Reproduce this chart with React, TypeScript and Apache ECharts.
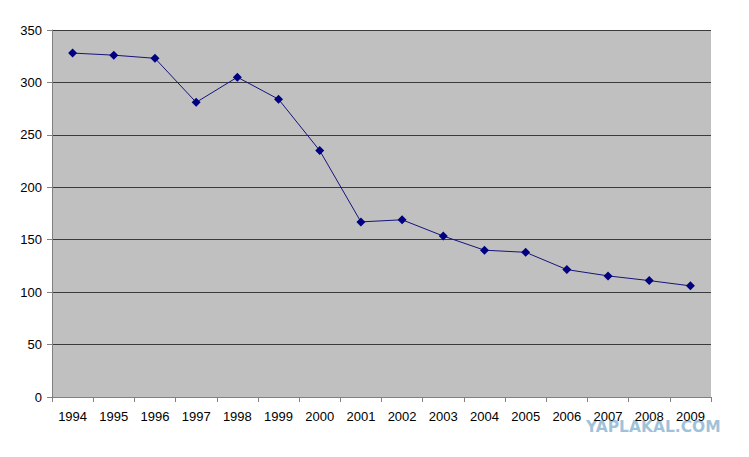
import React, { useEffect, useRef } from "react";
import * as echarts from "echarts";

const years = ["1994","1995","1996","1997","1998","1999","2000","2001","2002","2003","2004","2005","2006","2007","2008","2009"];
const values = [328, 326, 323, 281, 305, 284, 235, 167, 169, 153.5, 140, 138, 121.5, 115.5, 111, 106];
const yMin = 0;
const yMax = 350;
const yInterval = 50;

export default function App() {
  const ref = useRef<HTMLDivElement>(null);
  useEffect(() => {
    const chart = echarts.init(ref.current!, null, { renderer: "svg" });
    chart.setOption({
      animation: false,
      backgroundColor: "#ffffff",
      textStyle: { fontFamily: "Liberation Sans, Arial, sans-serif" },
      grid: { left: 52, right: 38, top: 30, bottom: 60, containLabel: false, show: true, backgroundColor: "#C0C0C0", borderWidth: 0 },
      xAxis: {
        type: "category",
        data: years,
        boundaryGap: true,
        axisLine: { show: true, lineStyle: { color: "#808080", width: 1 } },
        axisTick: { show: true, alignWithLabel: false, length: 5, lineStyle: { color: "#808080" } },
        axisLabel: { color: "#000", fontSize: 13, margin: 13, interval: 0, fontFamily: "Liberation Sans, Arial, sans-serif" },
        splitLine: { show: false },
      },
      yAxis: {
        type: "value",
        min: yMin,
        max: yMax,
        interval: yInterval,
        axisLine: { show: true, lineStyle: { color: "#808080", width: 1 } },
        axisTick: { show: true, length: 5, lineStyle: { color: "#808080" } },
        axisLabel: { color: "#000", fontSize: 13, margin: 10, fontFamily: "Liberation Sans, Arial, sans-serif" },
        splitLine: { show: true, lineStyle: { color: "#3a3a3a", width: 1 } },
      },
      series: [
        {
          type: "line",
          data: values,
          symbol: "diamond",
          symbolSize: 9,
          itemStyle: { color: "#000080" },
          lineStyle: { color: "#14147a", width: 1 },
        },
      ],
      graphic: [
        {
          type: "text",
          left: 586,
          top: 419,
          style: {
            text: "YAPLAKAL.COM",
            fill: "#8fb7d3",
            font: "bold 15.5px 'DejaVu Sans', sans-serif",
            opacity: 0.85,
          },
        },
      ],
    });
    return () => chart.dispose();
  }, []);
  return <div ref={ref} style={{ width: 749, height: 457, position: "absolute", left: 0, top: 0 }} />;
}
